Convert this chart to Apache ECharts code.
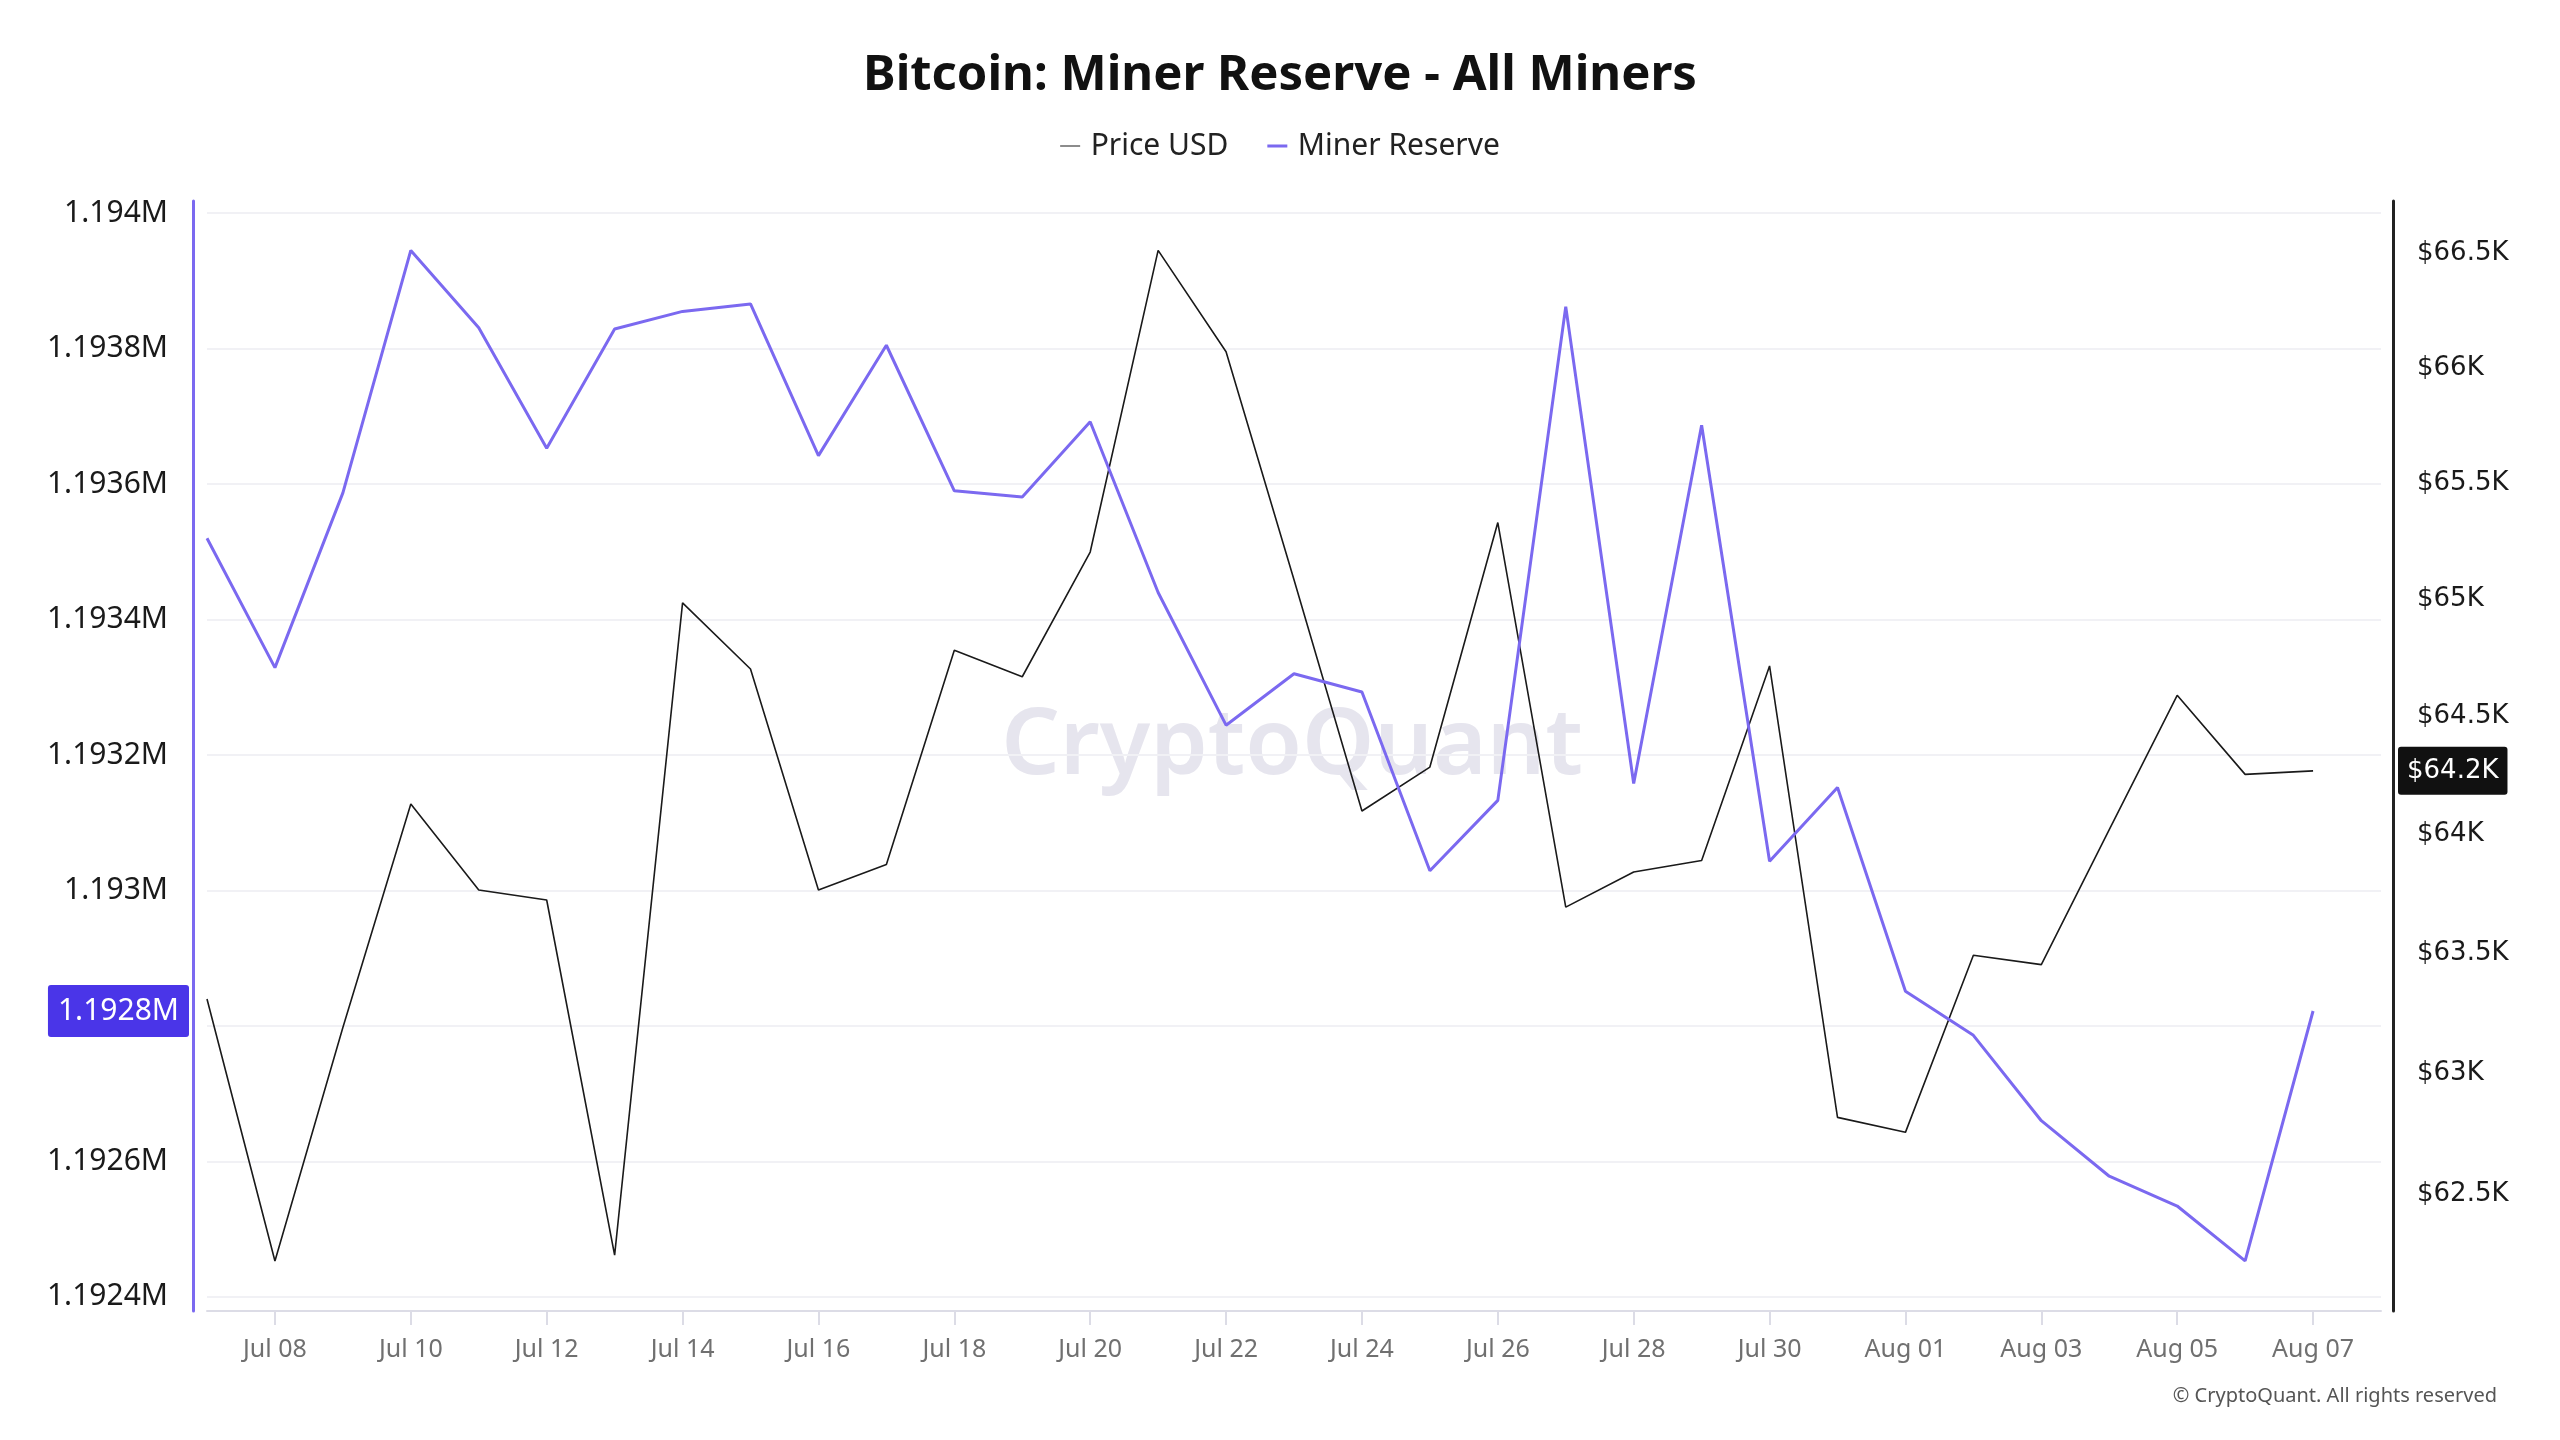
<!DOCTYPE html>
<html>
<head>
<meta charset="utf-8">
<title>Bitcoin: Miner Reserve - All Miners</title>
<script src="https://cdn.jsdelivr.net/npm/echarts@6/dist/echarts.min.js"></script>
<style>
  html, body { margin: 0; padding: 0; background: #ffffff; }
  #chart { width: 2560px; height: 1440px; }
</style>
</head>
<body>
<div id="chart"></div>
<script>
var dates = [
    'Jul 07', 'Jul 08', 'Jul 09', 'Jul 10', 'Jul 11', 'Jul 12', 'Jul 13', 'Jul 14',
    'Jul 15', 'Jul 16', 'Jul 17', 'Jul 18', 'Jul 19', 'Jul 20', 'Jul 21', 'Jul 22',
    'Jul 23', 'Jul 24', 'Jul 25', 'Jul 26', 'Jul 27', 'Jul 28', 'Jul 29', 'Jul 30',
    'Jul 31', 'Aug 01', 'Aug 02', 'Aug 03', 'Aug 04', 'Aug 05', 'Aug 06', 'Aug 07'
];

var priceUsd = [
    63309, 62225, 63190, 64129, 63766, 63724, 62249, 64985,
    64702, 63766, 63873, 64782, 64669, 65203, 66513, 66070,
    65084, 64099, 64285, 65330, 63694, 63842, 63890, 64715,
    62817, 62755, 63492, 63453, 64020, 64590, 64254, 64269
];

var minerReserve = [
    1193520, 1193329, 1193587, 1193945, 1193831, 1193653, 1193829, 1193855,
    1193866, 1193642, 1193805, 1193590, 1193581, 1193692, 1193440, 1193244,
    1193320, 1193293, 1193029, 1193133, 1193862, 1193158, 1193687, 1193043,
    1193152, 1192851, 1192786, 1192660, 1192578, 1192534, 1192453, 1192822
];

// label positions (index into dates) and axis tick values
var dateTicks = [1, 3, 5, 7, 9, 11, 13, 15, 17, 19, 21, 23, 25, 27, 29, 31];
var reserveTicks = [1192400, 1192600, 1192800, 1193000, 1193200, 1193400, 1193600, 1193800, 1194000];
var priceTicks = [62500, 63000, 63500, 64000, 64500, 65000, 65500, 66000, 66500];

var lastReserve = minerReserve[minerReserve.length - 1];
var lastPrice = priceUsd[priceUsd.length - 1];

var purple = '#7b69f0';

function fmtReserve(v) {
    return (v / 1e6).toFixed(4).replace(/0+$/, '').replace(/\.$/, '') + 'M';
}
function fmtPrice(v) {
    return '$' + (v / 1000).toFixed(1).replace(/\.0$/, '') + 'K';
}

// thin line legend icons: tiny corner dots fix the box, the bar is the line
var thinIcon = 'path://M0,0h0.01v0.01h-0.01z M0,6.4h20v1.2h-20z M0,14h0.01v0.01h-0.01z';
var thickIcon = 'path://M0,0h0.01v0.01h-0.01z M0,5.5h20v3h-20z M0,14h0.01v0.01h-0.01z';

var reserveRange = { min: 1192379, max: 1194018 };
var priceRange = { min: 62020, max: 66730 };

var chart = echarts.init(document.getElementById('chart'));

var option = {
    animation: false,
    backgroundColor: '#ffffff',
    title: {
        text: 'Bitcoin: Miner Reserve - All Miners',
        left: 'center',
        top: 52,
        padding: 0,
        textStyle: {
            fontFamily: 'Noto Sans',
            fontSize: 49,
            fontWeight: 'bold',
            color: '#111111'
        }
    },
    legend: {
        data: [
            { name: 'Price USD', icon: thinIcon, itemStyle: { color: '#1a1a1a' } },
            { name: 'Miner Reserve', icon: thickIcon, itemStyle: { color: purple } }
        ],
        left: 'center',
        top: 126,
        itemWidth: 31,
        itemHeight: 14,
        itemGap: 39,
        textStyle: {
            fontFamily: 'Noto Sans',
            fontSize: 30,
            color: '#222222'
        }
    },
    grid: {
        left: 207,
        right: 179,
        top: 201,
        bottom: 129,
        containLabel: false
    },
    xAxis: {
        type: 'value',
        min: 0,
        max: 32,
        axisLine: { show: true, lineStyle: { color: '#dcdce6', width: 2 } },
        axisTick: {
            show: true,
            customValues: dateTicks,
            length: 14,
            lineStyle: { color: '#dcdce6', width: 2 }
        },
        axisLabel: {
            customValues: dateTicks,
            margin: 26,
            fontFamily: 'Noto Sans',
            fontSize: 25,
            color: '#707070',
            formatter: function (v) { return dates[v]; }
        },
        splitLine: { show: false }
    },
    yAxis: [
        {
            type: 'value',
            position: 'left',
            offset: 14,
            min: reserveRange.min,
            max: reserveRange.max,
            axisLine: { show: true, onZero: false, lineStyle: { color: purple, width: 3 } },
            axisTick: { show: false, customValues: reserveTicks },
            axisLabel: {
                customValues: reserveTicks,
                margin: 25,
                fontFamily: 'Noto Sans',
                fontSize: 30,
                color: '#1a1a1a',
                formatter: fmtReserve
            },
            splitLine: { show: true, lineStyle: { color: '#f1f1f5', width: 2 } }
        },
        {
            type: 'log',
            position: 'right',
            offset: 12,
            min: priceRange.min,
            max: priceRange.max,
            axisLine: { show: true, onZero: false, lineStyle: { color: '#222222', width: 3 } },
            axisTick: { show: false, customValues: priceTicks },
            axisLabel: {
                customValues: priceTicks,
                margin: 24,
                fontFamily: 'DejaVu Sans',
                fontSize: 26,
                color: '#1a1a1a',
                formatter: fmtPrice
            },
            splitLine: { show: false }
        },
        // last-value badge on the reserve axis
        {
            type: 'value',
            position: 'left',
            offset: 14,
            min: reserveRange.min,
            max: reserveRange.max,
            axisLine: { show: false },
            axisTick: { show: false, customValues: [lastReserve] },
            splitLine: { show: false },
            axisLabel: {
                customValues: [lastReserve],
                margin: 4,
                formatter: function (v) {
                    return (Math.floor(v / 100) / 10000).toFixed(4) + 'M';
                },
                backgroundColor: '#4a35e8',
                color: '#ffffff',
                fontFamily: 'Noto Sans',
                fontSize: 30,
                lineHeight: 30,
                padding: [11, 10, 11, 10],
                borderRadius: 3
            }
        },
        // last-value badge on the price axis
        {
            type: 'log',
            position: 'right',
            offset: 12,
            min: priceRange.min,
            max: priceRange.max,
            axisLine: { show: false },
            axisTick: { show: false, customValues: [lastPrice] },
            splitLine: { show: false },
            axisLabel: {
                customValues: [lastPrice],
                margin: 5,
                formatter: function (v) {
                    return '$' + (Math.floor(v / 100) / 10).toFixed(1) + 'K';
                },
                backgroundColor: '#111111',
                color: '#ffffff',
                fontFamily: 'DejaVu Sans',
                fontSize: 26,
                lineHeight: 28,
                padding: [10, 9, 10, 9],
                borderRadius: 3
            }
        }
    ],
    graphic: [
        {
            type: 'text',
            x: 1292,
            y: 748,
            z: 0,
            silent: true,
            style: {
                text: 'CryptoQuant',
                fontFamily: 'Noto Sans',
                fontSize: 92,
                fontWeight: 600,
                fill: '#e6e5ee',
                align: 'center',
                verticalAlign: 'middle'
            }
        },
        {
            type: 'text',
            x: 2497,
            y: 1396,
            silent: true,
            style: {
                text: '\u00a9 CryptoQuant. All rights reserved',
                fontFamily: 'Noto Sans',
                fontSize: 20,
                fill: '#555555',
                align: 'right',
                verticalAlign: 'middle'
            }
        }
    ],
    series: [
        {
            name: 'Price USD',
            type: 'line',
            yAxisIndex: 1,
            symbol: 'none',
            color: '#1a1a1a',
            lineStyle: { width: 1.6, color: '#1a1a1a' },
            data: priceUsd.map(function (v, i) { return [i, v]; })
        },
        {
            name: 'Miner Reserve',
            type: 'line',
            yAxisIndex: 0,
            symbol: 'none',
            color: purple,
            lineStyle: { width: 3, color: purple },
            data: minerReserve.map(function (v, i) { return [i, v]; })
        }
    ]
};

chart.setOption(option);
</script>
</body>
</html>
